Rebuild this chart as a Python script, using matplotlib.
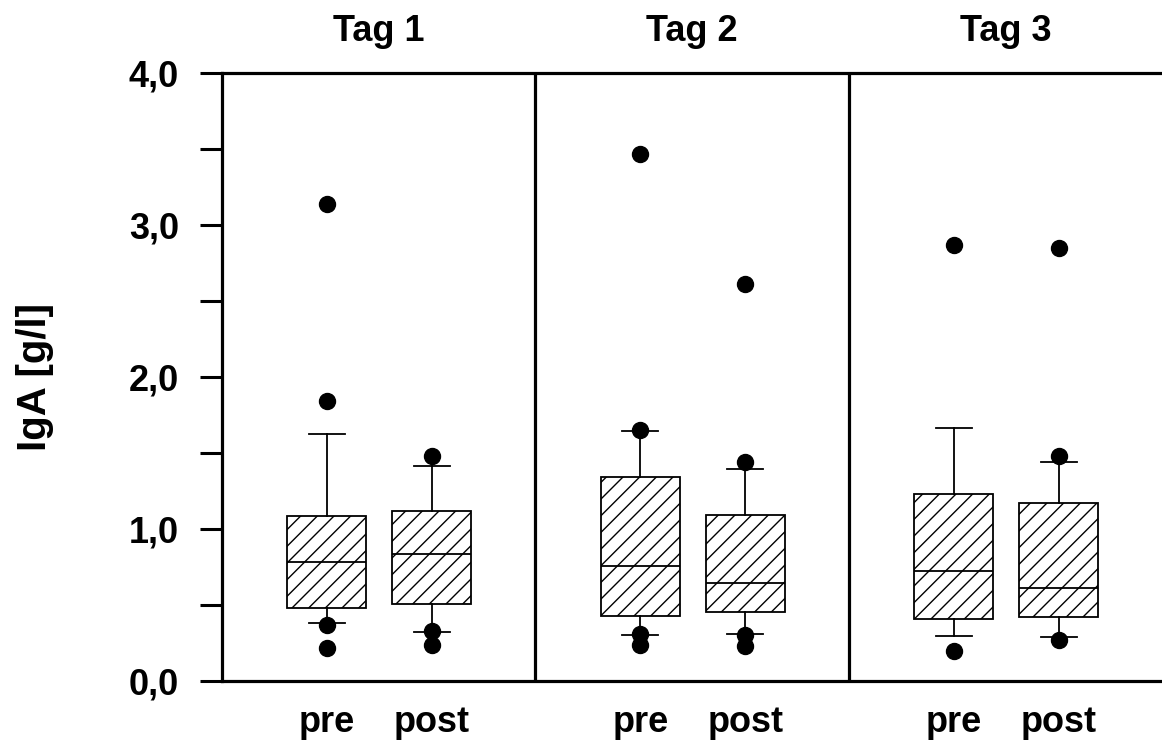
import matplotlib
matplotlib.use("Agg")
import matplotlib.pyplot as plt
from matplotlib.ticker import MultipleLocator, FixedLocator

plt.rcParams['font.family'] = ['Liberation Sans', 'DejaVu Sans']
plt.rcParams['font.weight'] = 'bold'
plt.rcParams['hatch.linewidth'] = 1.0

days = ["Tag 1", "Tag 2", "Tag 3"]
groups = ["pre", "post"]

# one entry per box: Tag1 pre, Tag1 post, Tag2 pre, Tag2 post, Tag3 pre, Tag3 post
q1 = [0.478, 0.505, 0.427, 0.456, 0.408, 0.424]
med = [0.781, 0.838, 0.754, 0.642, 0.725, 0.609]
q3 = [1.087, 1.120, 1.340, 1.093, 1.227, 1.170]
whislo = [0.381, 0.322, 0.303, 0.306, 0.295, 0.287]
whishi = [1.627, 1.412, 1.643, 1.396, 1.662, 1.444]
fliers = [
    [3.14, 1.84, 0.37, 0.22],
    [1.48, 0.33, 0.24],
    [3.47, 1.65, 0.31, 0.24],
    [2.61, 1.44, 0.30, 0.23],
    [2.87, 0.20],
    [2.85, 1.48, 0.27],
]

stats = []
for i in range(len(q1)):
    stats.append(dict(q1=q1[i], med=med[i], q3=q3[i],
                      whislo=whislo[i], whishi=whishi[i], fliers=fliers[i]))

positions = []
for d in range(len(days)):
    positions += [d + 0.335, d + 0.67]

fig = plt.figure(figsize=(11.62, 7.4), dpi=100)
ax = fig.add_axes([222/1162, 59/740, 940/1162, 608/740])

bp = ax.bxp(stats, positions=positions, widths=0.252, capwidths=0.115,
            patch_artist=True, showfliers=True,
            boxprops=dict(facecolor="white", edgecolor="black", linewidth=1.3, hatch="//"),
            medianprops=dict(color="black", linewidth=1.3),
            whiskerprops=dict(color="black", linewidth=1.3),
            capprops=dict(color="black", linewidth=1.3),
            flierprops=dict(marker="o", markerfacecolor="black",
                            markeredgecolor="black", markersize=11.5))

for x in [1, 2]:
    ax.axvline(x, color="black", linewidth=2.3)

ax.set_xlim(0, 3)
ax.set_ylim(0, 4)

ax.yaxis.set_major_locator(MultipleLocator(1))
ax.yaxis.set_minor_locator(FixedLocator([0.5, 1.5, 2.5, 3.5]))
ax.set_yticklabels([f"{v:.1f}".replace(".", ",") for v in ax.get_yticks()])
ax.tick_params(axis="y", which="both", length=16, width=2.2, labelsize=26, pad=15)

ax.set_xticks(positions)
ax.set_xticklabels(groups * len(days))
ax.tick_params(axis="x", length=0, labelsize=26, pad=17)

for s in ["left", "bottom", "top"]:
    ax.spines[s].set_linewidth(2.3)
ax.spines["right"].set_visible(False)

for d, name in enumerate(days):
    ax.text(d + 0.5, 1.069, name, transform=ax.get_xaxis_transform(),
            ha="center", va="center", fontsize=26, fontweight="bold")

fig.text(35/1162, 1 - 377/740, "IgA [g/l]", rotation=90, ha="center", va="center",
         fontsize=29, fontweight="bold")

fig.savefig("out.png", dpi=100)
